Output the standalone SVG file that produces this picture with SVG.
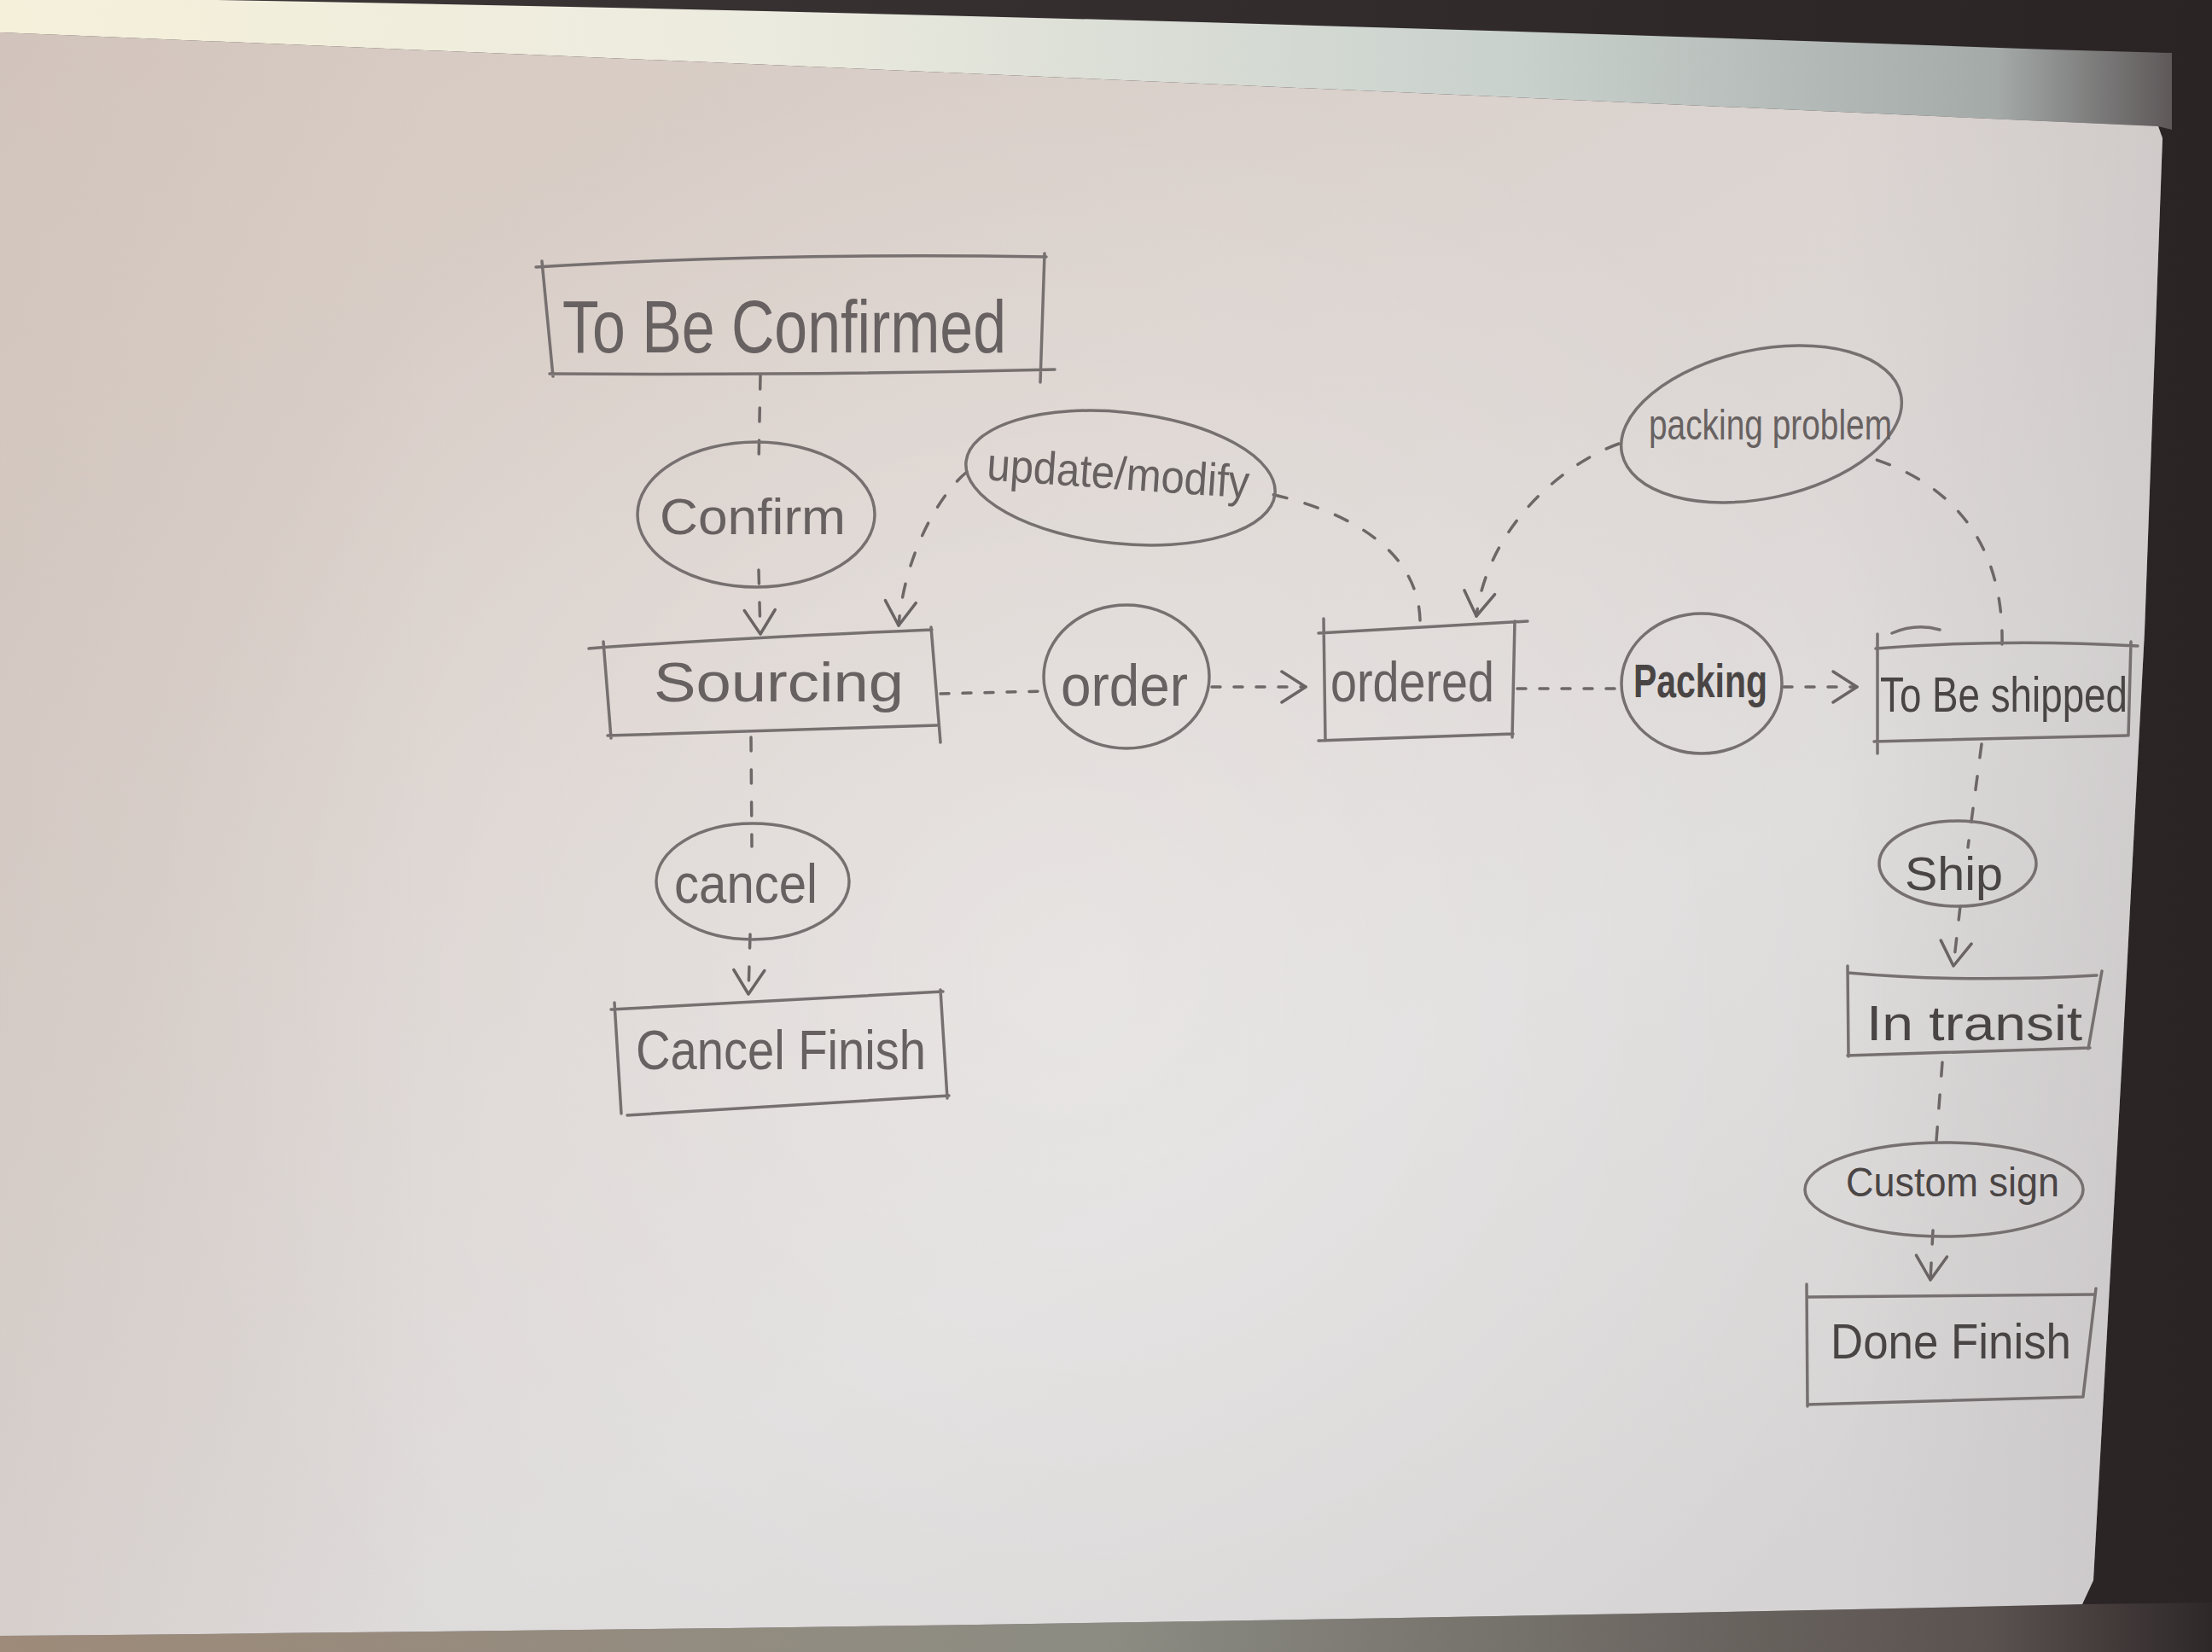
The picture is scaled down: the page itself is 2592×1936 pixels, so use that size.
<svg xmlns="http://www.w3.org/2000/svg" width="2592" height="1936" viewBox="0 0 2592 1936">
  <defs>
    <linearGradient id="paperG" x1="0" y1="0" x2="0.8" y2="1">
      <stop offset="0" stop-color="#d6c8bf"/>
      <stop offset="0.35" stop-color="#dbd2cd"/>
      <stop offset="0.7" stop-color="#dedbdb"/>
      <stop offset="1" stop-color="#d6d3d4"/>
    </linearGradient>
    <linearGradient id="edgeG" x1="0" y1="0" x2="1" y2="0">
      <stop offset="0" stop-color="#c9bdb6" stop-opacity="0.35"/>
      <stop offset="0.2" stop-color="#c9bdb6" stop-opacity="0"/>
      <stop offset="0.85" stop-color="#b9b4b6" stop-opacity="0"/>
      <stop offset="1" stop-color="#b9b4b6" stop-opacity="0.35"/>
    </linearGradient>
    <radialGradient id="glow" cx="1250" cy="1150" r="1100" gradientUnits="userSpaceOnUse">
      <stop offset="0" stop-color="#ffffff" stop-opacity="0.3"/>
      <stop offset="1" stop-color="#ffffff" stop-opacity="0"/>
    </radialGradient>
    <linearGradient id="bandG" x1="0" y1="0" x2="1" y2="0">
      <stop offset="0" stop-color="#f5f0da"/>
      <stop offset="0.35" stop-color="#ecebdf"/>
      <stop offset="0.7" stop-color="#c9d1cd"/>
      <stop offset="0.92" stop-color="#a4aaa8"/>
      <stop offset="1" stop-color="#5e5859"/>
    </linearGradient>
    <linearGradient id="bottomG" x1="0" y1="0" x2="1" y2="0">
      <stop offset="0" stop-color="#9e8b7a"/>
      <stop offset="0.5" stop-color="#8c8c83"/>
      <stop offset="0.9" stop-color="#5a524f"/>
      <stop offset="1" stop-color="#2f2829"/>
    </linearGradient>
    <linearGradient id="rightG" x1="0" y1="0" x2="1" y2="0">
      <stop offset="0" stop-color="#3e3738"/>
      <stop offset="1" stop-color="#2a2425"/>
    </linearGradient>
    <marker id="arrow" viewBox="0 0 34 40" refX="30" refY="20" markerWidth="34" markerHeight="40" markerUnits="userSpaceOnUse" orient="auto" overflow="visible">
      <path d="M2,2 L30,20 L2,38" fill="none" stroke="#6a6464" stroke-width="3.5" stroke-linecap="round" stroke-linejoin="round"/>
    </marker>
    <style>
      .pen { fill: none; stroke: #767070; stroke-width: 3.5; stroke-linecap: round; stroke-linejoin: round; }
      .dash { fill: none; stroke: #6d6767; stroke-width: 3.5; stroke-dasharray: 16 22; stroke-linecap: round; }
      .dots { stroke-dasharray: 10 16; }
      .lbl { font-family: "Liberation Sans", "DejaVu Sans", sans-serif; fill: #676161; }
      .dark { fill: #4a4545; }
    </style>
  </defs>

  <!-- background photo surroundings -->
  <rect x="0" y="0" width="2592" height="1936" fill="url(#rightG)"/>
  <path d="M0,0 L250,0 Q1300,18 2400,58 L2545,62 L2545,152 L2529,148 Q1300,92 0,38 Z" fill="url(#bandG)"/>
  <path d="M0,1917 Q1300,1906 2440,1880 L2592,1878 L2592,1936 L0,1936 Z" fill="url(#bottomG)"/>
  <!-- paper -->
  <path d="M0,38 Q1300,92 2529,148 L2534,162 L2513,740 L2487,1235 L2453,1852 L2440,1880 Q1300,1906 0,1917 Z" fill="url(#paperG)"/>
  <path d="M0,38 Q1300,92 2529,148 L2534,162 L2513,740 L2487,1235 L2453,1852 L2440,1880 Q1300,1906 0,1917 Z" fill="url(#glow)"/>
  <path d="M0,38 Q1300,92 2529,148 L2534,162 L2513,740 L2487,1235 L2453,1852 L2440,1880 Q1300,1906 0,1917 Z" fill="url(#edgeG)"/>

  <!-- connectors -->
  <g id="connectors">
    <path id="e-confirmed-confirm" class="dash" d="M891,440 L889,545"/>
    <path id="e-confirm-sourcing" class="dash" d="M889,668 L891,743" marker-end="url(#arrow)"/>
    <path id="e-ordered-update" class="dash" d="M1664,727 C1662,650 1590,600 1480,577"/>
    <path id="e-update-sourcing" class="dash" d="M1133,553 C1100,580 1060,650 1053,733" marker-end="url(#arrow)"/>
    <path id="e-sourcing-order" class="dash dots" d="M1102,813 L1222,810"/>
    <path id="e-order-ordered" class="dash dots" d="M1420,805 L1530,805" marker-end="url(#arrow)"/>
    <path id="e-ordered-packing" class="dash dots" d="M1778,807 L1900,807"/>
    <path id="e-packing-shipped" class="dash dots" d="M2090,805 L2176,805" marker-end="url(#arrow)"/>
    <path id="e-shipped-problem" class="dash" d="M2346,755 C2348,650 2300,570 2190,536"/>
    <path id="e-problem-ordered" class="dash" d="M1897,520 C1840,540 1745,610 1730,722" marker-end="url(#arrow)"/>
    <path id="e-sourcing-cancel" class="dash" d="M880,864 L881,992"/>
    <path id="e-cancel-finish" class="dash" d="M879,1095 L877,1165" marker-end="url(#arrow)"/>
    <path id="e-shipped-ship" class="dash" d="M2322,872 L2306,993"/>
    <path id="e-ship-transit" class="dash" d="M2297,1062 L2289,1132" marker-end="url(#arrow)"/>
    <path id="e-transit-custom" class="dash" d="M2276,1245 L2268,1350"/>
    <path id="e-custom-done" class="dash" d="M2265,1442 L2262,1500" marker-end="url(#arrow)"/>
  </g>

  <!-- nodes -->
  <g id="node-to-be-confirmed">
    <path class="pen" d="M628,313 Q900,296 1226,301 M1224,297 L1219,448 M1236,433 Q950,440 644,438 M648,441 L635,306"/>
    <text class="lbl" x="659" y="413" font-size="88" textLength="520" lengthAdjust="spacingAndGlyphs">To Be Confirmed</text>
  </g>

  <g id="node-confirm">
    <ellipse class="pen" cx="886" cy="603" rx="139" ry="85"/>
    <text class="lbl" x="773" y="626" font-size="60" textLength="218" lengthAdjust="spacingAndGlyphs">Confirm</text>
  </g>

  <g id="node-sourcing">
    <path class="pen" d="M690,760 Q850,748 1092,738 M1091,735 L1102,870 M712,862 L1098,850 M707,752 L716,865"/>
    <text class="lbl" x="766" y="822" font-size="64" textLength="293" lengthAdjust="spacingAndGlyphs">Sourcing</text>
  </g>

  <g id="node-update-modify">
    <ellipse class="pen" cx="1313" cy="560" rx="182" ry="77" transform="rotate(6 1313 560)"/>
    <text class="lbl" x="1156" y="573" font-size="54" textLength="308" lengthAdjust="spacingAndGlyphs" transform="rotate(4 1310 560)">update/modify</text>
  </g>

  <g id="node-order">
    <ellipse class="pen" cx="1320" cy="793" rx="97" ry="84"/>
    <text class="lbl" x="1243" y="827" font-size="68" textLength="149" lengthAdjust="spacingAndGlyphs">order</text>
  </g>

  <g id="node-ordered">
    <path class="pen" d="M1545,742 L1790,728 M1775,728 L1772,864 M1545,868 L1773,860 M1551,725 L1553,868"/>
    <text class="lbl" x="1559" y="822" font-size="66" textLength="192" lengthAdjust="spacingAndGlyphs">ordered</text>
  </g>

  <g id="node-packing-problem">
    <ellipse class="pen" cx="2064" cy="497" rx="167" ry="87" transform="rotate(-12 2064 497)"/>
    <text class="lbl" x="1932" y="515" font-size="50" textLength="285" lengthAdjust="spacingAndGlyphs">packing problem</text>
  </g>

  <g id="node-packing">
    <ellipse class="pen" cx="1994" cy="801" rx="94" ry="82"/>
    <text class="lbl dark" x="1914" y="817" font-size="56" font-weight="bold" textLength="157" lengthAdjust="spacingAndGlyphs">Packing</text>
  </g>

  <g id="node-to-be-shipped">
    <path class="pen" d="M2198,760 Q2350,748 2505,757 M2497,752 L2494,862 M2196,869 L2492,862 M2200,743 L2200,883 M2217,742 Q2245,730 2273,738"/>
    <text class="lbl dark" x="2203" y="834" font-size="58" textLength="290" lengthAdjust="spacingAndGlyphs">To Be shipped</text>
  </g>

  <g id="node-cancel">
    <ellipse class="pen" cx="882" cy="1033" rx="113" ry="68"/>
    <text class="lbl" x="790" y="1058" font-size="64" textLength="168" lengthAdjust="spacingAndGlyphs">cancel</text>
  </g>

  <g id="node-cancel-finish">
    <path class="pen" d="M716,1183 L1105,1162 M1102,1160 L1110,1287 M735,1307 L1112,1284 M720,1175 L728,1305"/>
    <text class="lbl" x="745" y="1253" font-size="64" textLength="340" lengthAdjust="spacingAndGlyphs">Cancel Finish</text>
  </g>

  <g id="node-ship">
    <ellipse class="pen" cx="2294" cy="1012" rx="92" ry="50"/>
    <text class="lbl dark" x="2232" y="1043" font-size="56" textLength="115" lengthAdjust="spacingAndGlyphs">Ship</text>
  </g>

  <g id="node-in-transit">
    <path class="pen" d="M2165,1140 Q2300,1152 2457,1143 M2463,1138 L2447,1229 M2165,1237 L2449,1228 M2165,1132 L2166,1238"/>
    <text class="lbl dark" x="2187" y="1219" font-size="58" textLength="253" lengthAdjust="spacingAndGlyphs">In transit</text>
  </g>

  <g id="node-custom-sign">
    <ellipse class="pen" cx="2278" cy="1394" rx="163" ry="55"/>
    <text class="lbl dark" x="2163" y="1402" font-size="48" textLength="250" lengthAdjust="spacingAndGlyphs">Custom sign</text>
  </g>

  <g id="node-done-finish">
    <path class="pen" d="M2117,1520 L2453,1517 M2456,1510 L2441,1636 M2118,1646 L2441,1637 M2117,1505 L2118,1648"/>
    <text class="lbl dark" x="2145" y="1592" font-size="58" textLength="282" lengthAdjust="spacingAndGlyphs">Done Finish</text>
  </g>
</svg>
